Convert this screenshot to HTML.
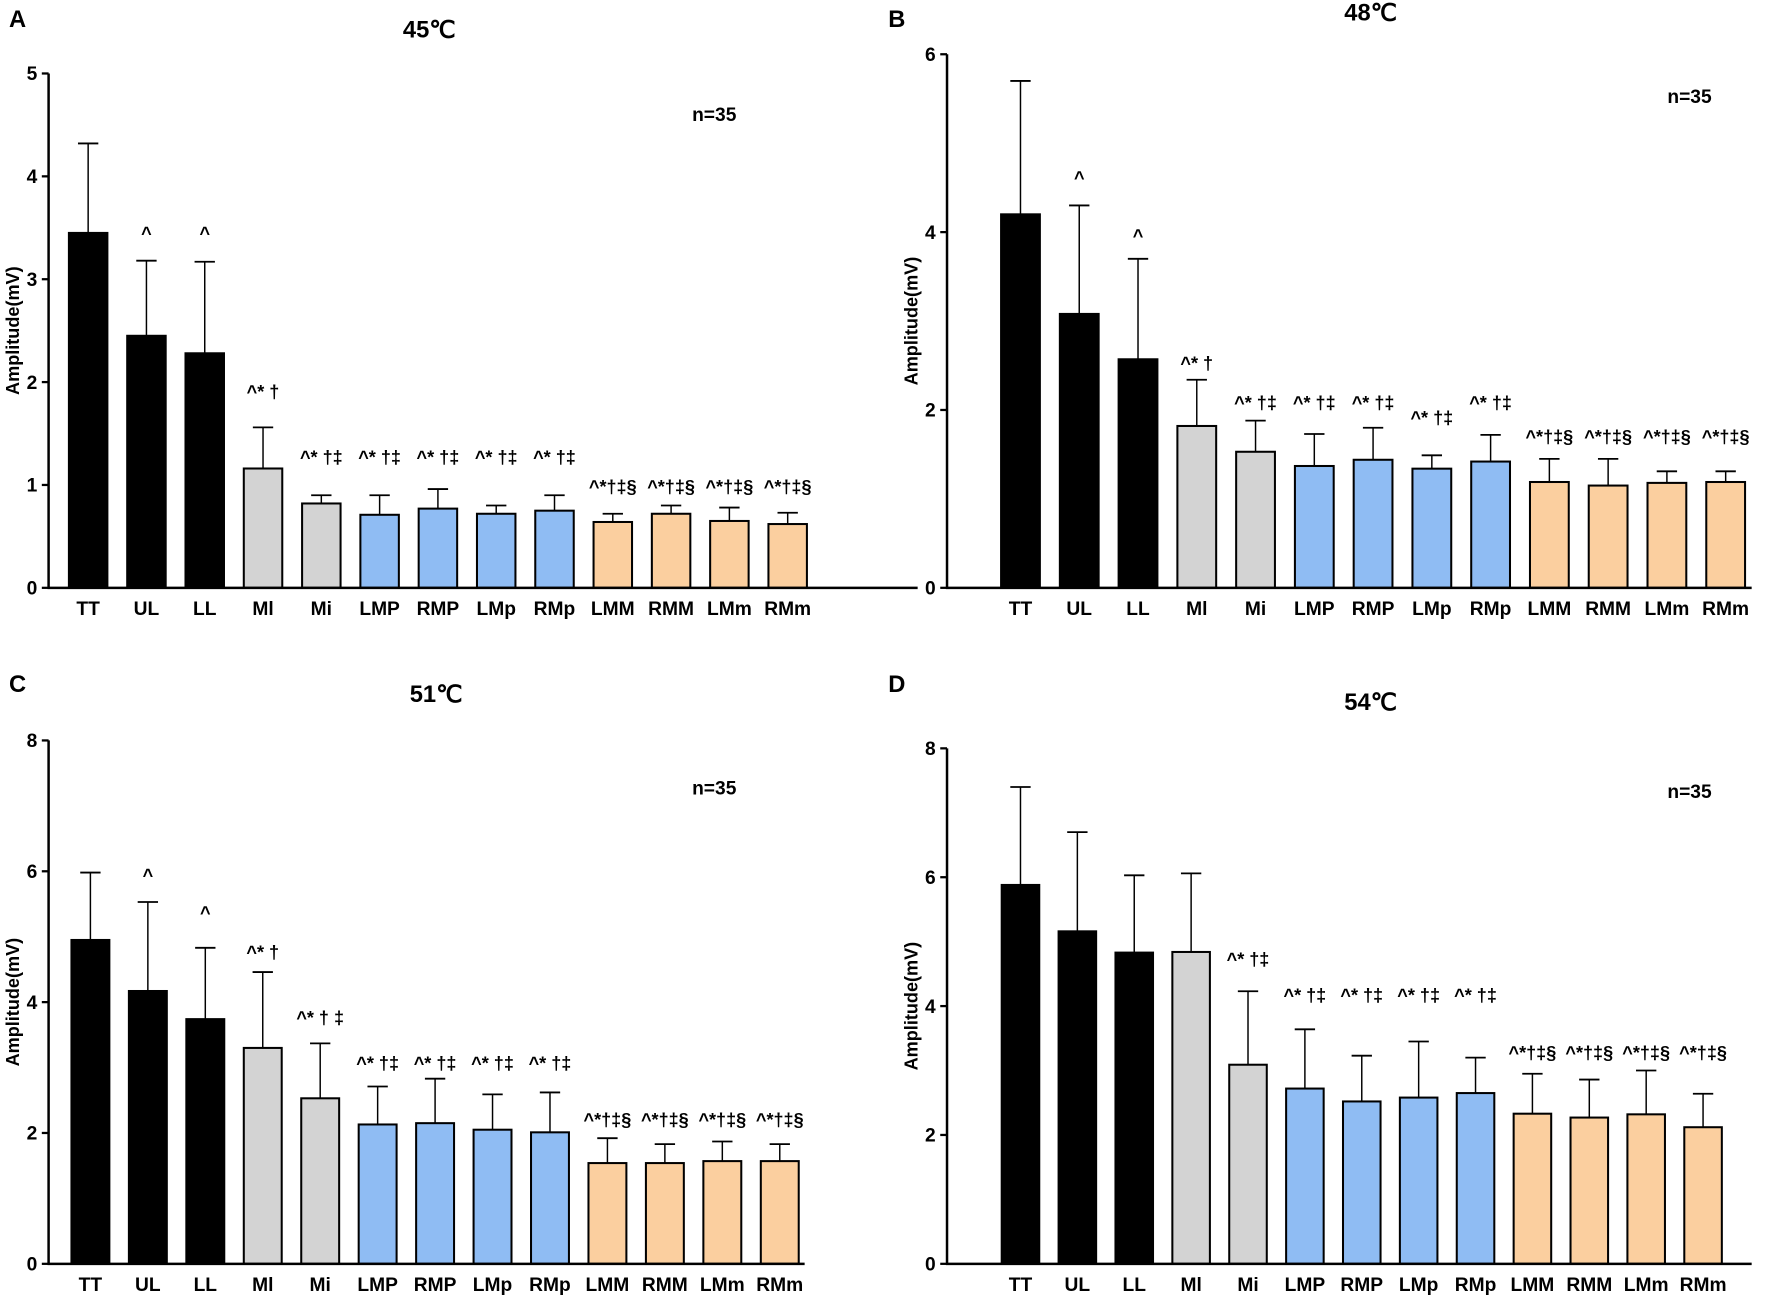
<!DOCTYPE html>
<html><head><meta charset="utf-8"><style>
html,body{margin:0;padding:0;background:#fff;}
svg{display:block;font-family:"Liberation Sans",Arial,sans-serif;}
</style></head><body>
<svg id="fig" width="1772" height="1300" viewBox="0 0 1568 1150" preserveAspectRatio="none" xmlns="http://www.w3.org/2000/svg"></svg>
<script>
const categories = ["TT","UL","LL","Ml","Mi","LMP","RMP","LMp","RMp","LMM","RMM","LMm","RMm"];
const colorGroups = ["k","k","k","g","g","b","b","b","b","o","o","o","o"];
const meanA = [3.45,2.45,2.28,1.16,0.82,0.71,0.77,0.72,0.75,0.64,0.72,0.65,0.62];
const errTopA = [4.32,3.18,3.17,1.56,0.90,0.90,0.96,0.80,0.90,0.72,0.80,0.78,0.73];
const meanB = [4.2,3.08,2.57,1.82,1.53,1.37,1.44,1.34,1.42,1.19,1.15,1.18,1.19];
const errTopB = [5.7,4.3,3.7,2.34,1.88,1.73,1.8,1.49,1.72,1.45,1.45,1.31,1.31];
const meanC = [4.95,4.17,3.74,3.3,2.53,2.13,2.15,2.05,2.01,1.54,1.54,1.57,1.57];
const errTopC = [5.98,5.53,4.83,4.46,3.37,2.71,2.83,2.59,2.62,1.92,1.83,1.87,1.83];
const meanD = [5.88,5.16,4.83,4.84,3.09,2.72,2.52,2.58,2.65,2.33,2.27,2.32,2.12];
const errTopD = [7.4,6.7,6.03,6.06,4.23,3.64,3.23,3.45,3.2,2.95,2.86,3.0,2.64];
const ticksA = [0,1,2,3,4,5];
const ticksB = [0,2,4,6];
const ticksC = [0,2,4,6,8];
const ticksD = [0,2,4,6,8];
const annotA = ["","^","^","^* †","^* †‡","^* †‡","^* †‡","^* †‡","^* †‡","^*†‡§","^*†‡§","^*†‡§","^*†‡§"];
const annotB = ["","^","^","^* †","^* †‡","^* †‡","^* †‡","^* †‡","^* †‡","^*†‡§","^*†‡§","^*†‡§","^*†‡§"];
const annotC = ["","^","^","^* †","^* † ‡","^* †‡","^* †‡","^* †‡","^* †‡","^*†‡§","^*†‡§","^*†‡§","^*†‡§"];
const annotD = ["","","","","^* †‡","^* †‡","^* †‡","^* †‡","^* †‡","^*†‡§","^*†‡§","^*†‡§","^*†‡§"];

const fills = {k:"#000000", g:"#d3d3d3", b:"#8fbcf3", o:"#fbcf9f"};
const NS = "http://www.w3.org/2000/svg";
const svg = document.getElementById("fig");
function mk(tag, attrs, parent, text){
  const e = document.createElementNS(NS, tag);
  for (const k in attrs) e.setAttribute(k, attrs[k]);
  if (text !== undefined) e.textContent = text;
  parent.appendChild(e);
  return e;
}

const panels = [
 {id:"a", letter:"A", title:"45℃", means:meanA, errs:errTopA, ticks:ticksA, annot:annotA,
  ax:43, y0:520, yTop:65, ymax:5, x1:78, xN:697, axEnd:812, lx:8, ly:24, tx:380, ty:33, nx:632, ny:107, annY:[0,212,212,352,410,410,410,410,410,436,436,436,436]},
 {id:"b", letter:"B", title:"48℃", means:meanB, errs:errTopB, ticks:ticksB, annot:annotB,
  ax:838, y0:520, yTop:48, ymax:6, x1:903, xN:1527, axEnd:1550, lx:786, ly:24, tx:1213, ty:18, nx:1495, ny:91, annY:[0,163,214,327,362,362,362,375,362,392,392,392,392]},
 {id:"c", letter:"C", title:"51℃", means:meanC, errs:errTopC, ticks:ticksC, annot:annotC,
  ax:43, y0:1118, yTop:655, ymax:8, x1:80, xN:690, axEnd:712, lx:8, ly:612, tx:386, ty:621, nx:632, ny:703, annY:[0,780,813,848,906,946,946,946,946,996,996,996,996]},
 {id:"d", letter:"D", title:"54℃", means:meanD, errs:errTopD, ticks:ticksD, annot:annotD,
  ax:838, y0:1118, yTop:662, ymax:8, x1:903, xN:1507, axEnd:1550, lx:786, ly:612, tx:1213, ty:628, nx:1495, ny:706, annY:[0,0,0,0,854,886,886,886,886,937,937,937,937]}
];

panels.forEach(p => {
  const g = mk("g", {}, svg);
  
  
  const yS = v => p.y0 - (v / p.ymax) * (p.y0 - p.yTop);
  const step = (p.xN - p.x1) / (categories.length - 1);
  const xS = i => p.x1 + i * step;
  const bw = step * 0.66;

  const L = mk("text", {x:p.lx, y:p.ly, "font-size":21, "font-weight":"bold"}, g, p.letter);
  
  
  const T = mk("text", {x:p.tx, y:p.ty, "font-size":21, "font-weight":"bold", "text-anchor":"middle"}, g, p.title);
  
  
  const N = mk("text", {x:p.nx, y:p.ny, "font-size":17, "font-weight":"bold", "text-anchor":"middle"}, g, "n=35");
  
  
  const yl = mk("text", {x:0, y:0, "font-size":16, "font-weight":"bold", "text-anchor":"middle", transform:`translate(${p.ax-26},${(p.y0+p.yTop)/2}) rotate(-90)`}, g, "Amplitude(mV)");
  
  

  p.means.forEach((m, i) => {
    const cx = xS(i);
    const eb = mk("line", {x1:cx, x2:cx, y1:yS(m), y2:yS(p.errs[i]), stroke:"#000", "stroke-width":1.3}, g);
    
    
    const cap = mk("line", {x1:cx-9, x2:cx+9, y1:yS(p.errs[i]), y2:yS(p.errs[i]), stroke:"#000", "stroke-width":1.6}, g);
    
    
    const r = mk("rect", {x:cx-bw/2, y:yS(m), width:bw, height:p.y0-yS(m), fill:fills[colorGroups[i]], stroke:"#000", "stroke-width":1.8}, g);
    
    
    const xl = mk("text", {x:cx, y:p.y0+24, "font-size":17, "font-weight":"bold", "text-anchor":"middle"}, g, categories[i]);
    
    
    if (p.annot[i]) {
      const a = mk("text", {x:cx, y:p.annY[i], "font-size":16, "font-weight":"bold", "text-anchor":"middle"}, g, p.annot[i]);
      
      
    }
  });

  const ya = mk("line", {x1:p.ax, x2:p.ax, y1:p.yTop, y2:p.y0, stroke:"#000", "stroke-width":2.2}, g);
  
  
  const xa = mk("line", {x1:p.ax-1, x2:p.axEnd, y1:p.y0, y2:p.y0, stroke:"#000", "stroke-width":2.2}, g);
  
  
  p.ticks.forEach(t => {
    const tk = mk("line", {x1:p.ax-6, x2:p.ax, y1:yS(t), y2:yS(t), stroke:"#000", "stroke-width":2}, g);
    
    
    const tl = mk("text", {x:p.ax-10, y:yS(t)+6, "font-size":17, "font-weight":"bold", "text-anchor":"end"}, g, String(t));
    
    
  });
});
</script>
</body></html>
